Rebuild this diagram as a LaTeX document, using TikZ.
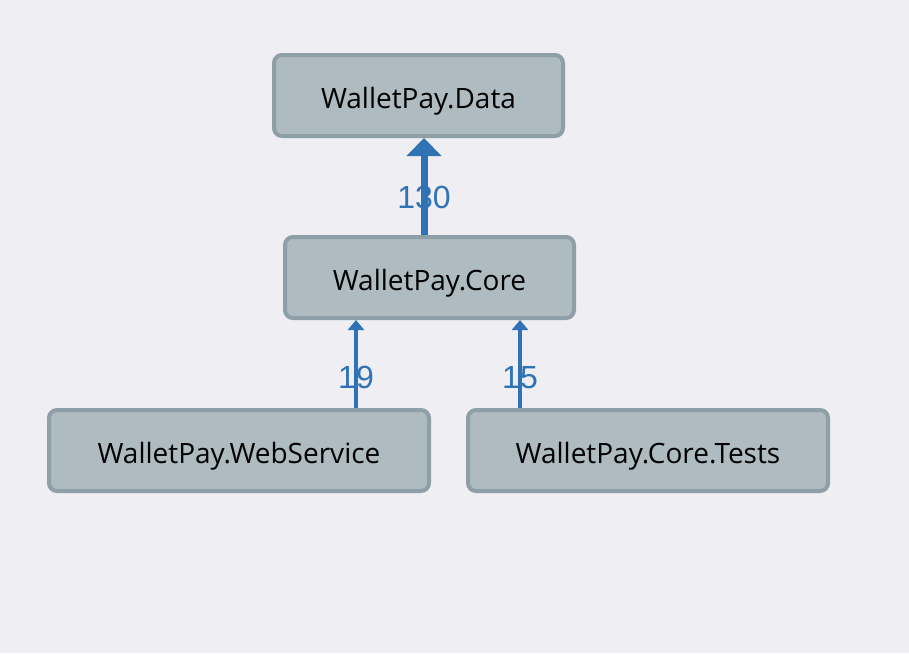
\documentclass[tikz,border=0pt]{standalone}
\usepackage{fontspec}
\setmainfont{Open Sans}
\newfontfamily\numfont{Liberation Sans}
\usetikzlibrary{arrows.meta}
\definecolor{bgc}{HTML}{EEEEF3}
\definecolor{boxfill}{HTML}{AEBBC0}
\definecolor{boxline}{HTML}{8E9FA7}
\definecolor{edgeblue}{HTML}{3073B5}
\tikzset{
  pkg/.style={draw=boxline, fill=boxfill, line width=4pt, rounded corners=8pt,
    minimum height=81pt, inner sep=0pt, text=black, text height=26pt, text depth=0pt,
    font=\fontsize{28}{32}\selectfont},
  dep/.style={draw=edgeblue, line width=#1},
  cnt/.style={text=edgeblue, font=\numfont\fontsize{32}{36}\selectfont, inner sep=0pt}
}
\begin{document}
\begin{tikzpicture}[x=1pt,y=-1pt]
\fill[bgc] (0,0) rectangle (909,653);
\useasboundingbox (0,0) rectangle (909,653);
\node[pkg, minimum width=289pt] (data) at (418.5,95.5) {WalletPay.Data};
\node[pkg, minimum width=289pt] (core) at (429.5,277.5) {WalletPay.Core};
\node[pkg, minimum width=380pt] (ws) at (239,450.5) {WalletPay.WebService};
\node[pkg, minimum width=360pt] (tests) at (648,450.5) {WalletPay.Core.Tests};
\coordinate (a1) at (424,0);
\coordinate (a2) at (356,0);
\coordinate (a3) at (520,0);
\draw[dep=7pt, -{Triangle[width=34pt,length=18pt]}] (a1 |- core.north) -- node[cnt, pos=0.39] {130} (a1 |- data.south);
\draw[dep=4pt, -{Triangle[width=16pt,length=10pt]}] (a2 |- ws.north) -- node[cnt, pos=0.35] {19} (a2 |- core.south);
\draw[dep=4pt, -{Triangle[width=16pt,length=10pt]}] (a3 |- tests.north) -- node[cnt, pos=0.35] {15} (a3 |- core.south);
\end{tikzpicture}
\end{document}
